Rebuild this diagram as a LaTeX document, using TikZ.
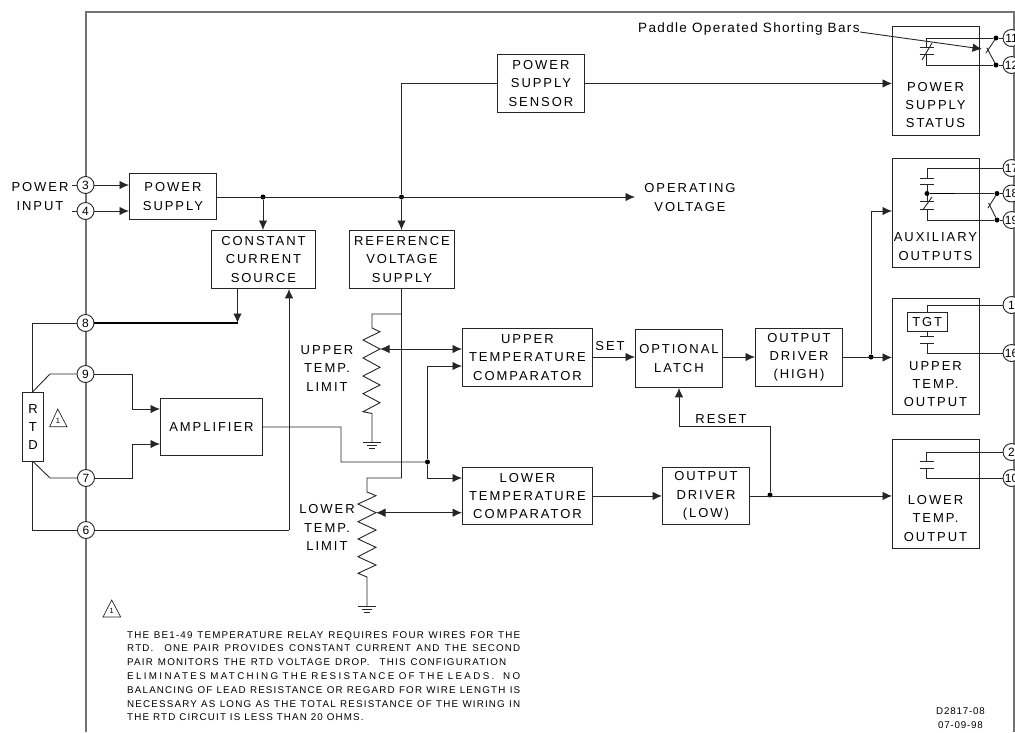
\documentclass[tikz,border=0pt]{standalone}
\usepackage{fontspec}
\setmainfont{Liberation Sans}
\usetikzlibrary{arrows.meta}
\newfontfamily\spaced[LetterSpace=15]{Liberation Sans}
\newfontfamily\paddlefont[LetterSpace=10]{Liberation Sans}
\newfontfamily\notefont[LetterSpace=12]{Liberation Sans}
\newfontfamily\notewide[LetterSpace=24]{Liberation Sans}
\newfontfamily\datefam[LetterSpace=8]{Liberation Sans}
\tikzset{
 wire/.style={line width=0.9pt,black!85},
 thickwire/.style={line width=1.5pt,black},
 arr/.style={wire,-{Latex[length=9.5pt,width=8.5pt]}},
 darr/.style={wire,{Latex[length=9.5pt,width=8.5pt]}-{Latex[length=9.5pt,width=8.5pt]}},
 boxfont/.style={font=\spaced\fontsize{13}{18.3}\selectfont},
 box/.style={draw=black!85,line width=0.9pt,inner sep=0pt,boxfont,align=center,anchor=north west},
 lab/.style={inner sep=0pt,boxfont,align=center},
 term/.style={circle,draw=black!85,line width=0.9pt,fill=white,minimum size=17pt,inner sep=0pt,font=\fontsize{12}{12}\selectfont},
 dot/.style={circle,fill=black,minimum size=5pt,inner sep=0pt},
 noteline/.style={inner sep=0pt,anchor=base west,font=\notefont\fontsize{9.8}{10}\selectfont},
 datefont/.style={inner sep=0pt,font=\datefam\fontsize{9.8}{14.5}\selectfont,align=center},
 mark1/.style={inner sep=0pt,font=\fontsize{7.5}{8}\selectfont},
}
\newcommand{\gnd}[3]{% x, y, half width
 \draw[wire] (#1-#3,#2) -- (#1+#3,#2) (#1-#3*0.6,#2+3) -- (#1+#3*0.6,#2+3) (#1-#3*0.3,#2+6) -- (#1+#3*0.3,#2+6);}
\newcommand{\plates}[3]{% x, y1, y2
 \draw[wire] (#1-7,#2) -- (#1+7,#2) (#1-7,#3) -- (#1+7,#3);}
\begin{document}
\begin{tikzpicture}[x=1pt,y=-1pt]
\useasboundingbox (0,0) rectangle (1015,732);
\draw[line width=1.2pt,black!55] (86,732) -- (86,12) -- (1014,12) -- (1014,732);

% boxes
\node[box,minimum width=87pt,minimum height=46pt] (ps) at (129,173) {POWER\\SUPPLY};
\node[box,minimum width=104pt,minimum height=58pt] (ccs) at (211,230) {CONSTANT\\CURRENT\\SOURCE};
\node[box,minimum width=105pt,minimum height=58pt] (ref) at (349,230) {REFERENCE\\VOLTAGE\\SUPPLY};
\node[box,minimum width=87pt,minimum height=58pt] (sens) at (497,54) {POWER\\SUPPLY\\SENSOR};
\node[box,minimum width=130pt,minimum height=58pt] (ucomp) at (462,328) {UPPER\\TEMPERATURE\\COMPARATOR};
\node[box,minimum width=87pt,minimum height=58pt] (latch) at (635,329) {OPTIONAL\\LATCH};
\node[box,minimum width=87pt,minimum height=58pt] (dhigh) at (755,328) {OUTPUT\\DRIVER\\(HIGH)};
\node[box,minimum width=130pt,minimum height=57pt] (lcomp) at (462,467) {LOWER\\TEMPERATURE\\COMPARATOR};
\node[box,minimum width=87pt,minimum height=57pt] (dlow) at (662,467) {OUTPUT\\DRIVER\\(LOW)};
\node[box,minimum width=102pt,minimum height=57pt] (amp) at (160,398) {AMPLIFIER};
\node[box,minimum width=21pt,minimum height=69pt] (rtd) at (22,392) {R\\T\\D};
\node[box,minimum width=87pt,minimum height=109pt] (psst) at (892,26) {};
\node[box,minimum width=87pt,minimum height=109pt] (aux) at (892,158) {};
\node[box,minimum width=87pt,minimum height=116pt] (uout) at (892,298) {};
\node[box,minimum width=87pt,minimum height=109pt] (lout) at (892,439) {};
\node[box,minimum width=39.5pt,minimum height=19.5pt] (tgt) at (907,311.5) {TGT};

% box captions
\node[lab] (lpsst) at (935.5,105) {POWER\\SUPPLY\\STATUS};
\node[lab] (laux) at (935.5,246.5) {AUXILIARY\\OUTPUTS};
\node[lab] (luout) at (935.5,384) {UPPER\\TEMP.\\OUTPUT};
\node[lab] (llout) at (935.5,518.5) {LOWER\\TEMP.\\OUTPUT};

% labels
\node[lab] (lpower) at (40,187) {POWER};
\node[lab] (linput) at (40,206) {INPUT};
\node[lab] (lop) at (690,197.5) {OPERATING\\VOLTAGE};
\node[lab] (lut) at (327,368.5) {UPPER\\TEMP.\\LIMIT};
\node[lab] (llt) at (327,527.5) {LOWER\\TEMP.\\LIMIT};
\node[lab] (lset) at (610,346) {SET};
\node[lab] (lreset) at (721,419) {RESET};
\node[inner sep=0pt,anchor=west,font=\paddlefont\fontsize{13.5}{14}\selectfont] (paddle) at (638,29) {Paddle Operated Shorting Bars};

% terminals
\node[term] (t3) at (85.5,185) {3};
\node[term] (t4) at (85.5,211) {4};
\node[term] (t8) at (85.5,323) {8};
\node[term] (t9) at (85.5,374) {9};
\node[term] (t7) at (86,478) {7};
\node[term] (t6) at (86,530) {6};
\node[term] (t11) at (1011.5,38) {11};
\node[term] (t12) at (1011.5,65) {12};
\node[term] (t17) at (1011.5,168) {17};
\node[term] (t18) at (1011.5,193.5) {18};
\node[term] (t19) at (1011.5,220) {19};
\node[term] (t1) at (1011.5,305) {1};
\node[term] (t16) at (1011.5,353) {16};
\node[term] (t2) at (1011.5,452) {2};
\node[term] (t10) at (1011.5,478) {10};

% junction dots
\node[dot] (d1) at (263,197) {};
\node[dot] (d2) at (401.5,197) {};
\node[dot] (d3) at (427.5,462) {};
\node[dot] (d4) at (770,495) {};
\node[dot] (d5) at (871,357) {};
\node[dot] (d11) at (996,38) {};
\node[dot] (d12) at (996,65) {};
\node[dot] (d18) at (997,193.5) {};
\node[dot] (d19) at (997,220) {};
\node[dot] (d0) at (927,193.5) {};

% free ends
\coordinate (opv) at (635,197);
\coordinate (u1) at (372,314);
\coordinate (l1) at (367,478);
\coordinate (uw) at (380,349);
\coordinate (lw) at (376,512.7);
\coordinate (k1) at (237.5,323);
\coordinate (k2) at (289,530);
\coordinate (c1) at (926.5,38);
\coordinate (c2) at (926.5,65);
\coordinate (c3) at (927,168);
\coordinate (c4) at (927,220);
\coordinate (c5) at (927,305);
\coordinate (c6) at (927,353);
\coordinate (c7) at (926.5,452);
\coordinate (c8) at (926.5,478);

% power input
\draw[wire] (72,185) -- (t3);
\draw[wire] (72,211) -- (t4);
\draw[arr] (t3) -- (ps.west |- t3);
\draw[arr] (t4) -- (ps.west |- t4);
\draw[arr] (ps.east |- opv) -- (opv);
\draw[arr] (d1) -- (ccs.north -| d1);
\draw[arr] (d2) -- (ref.north -| d2);
\draw[wire] (d2) |- (sens.west);
\draw[arr] (sens.east) -- (psst.west |- sens.east);

% reference rails
\draw[wire] (ref.south -| d2) -- (d2 |- l1) -- (l1) -- (367,492) -- (376,495.7) -- (358,504) -- (376,512.7) -- (358,521.7) -- (376,530) -- (358,539) -- (376,547.3) -- (358,556.7) -- (376,565) -- (358,573.3) -- (367,577) -- (367,606);
\draw[wire] (d2 |- u1) -- (u1) -- (372,328) -- (380,331.7) -- (363,340) -- (380,349) -- (363,358) -- (380,367.3) -- (363,376) -- (380,385) -- (363,393.7) -- (380,402.7) -- (363,411.7) -- (372,413.5) -- (372,442);
\gnd{372}{442}{9}
\gnd{367}{606}{9}
\draw[darr] (uw) -- (ucomp.west |- uw);
\draw[darr] (lw) -- (lcomp.west |- lw);

% amplifier
\draw[wire] (amp.east) -- (341,427) -- (341,462) -- (d3);
\draw[arr] (d3) |- (ucomp.west |- 0,366);
\draw[arr] (d3) |- (lcomp.west |- 0,478);

% RTD
\draw[wire] (t8) -| (rtd.north -| 32,0);
\draw[thickwire] (t8) -- (k1);
\draw[arr] (ccs.south -| k1) -- (k1);
\draw[wire] (t9) -- (50,374) -- (32.5,392);
\draw[wire] (t7) -- (50,478) -- (32.5,461);
\draw[wire] (t6) -| (rtd.south -| 32,0);
\draw[wire] (t6) -- (k2);
\draw[arr] (k2) -- (ccs.south -| k2);
\draw[arr] (t9) -- (132.5,374) |- (amp.west |- 0,409);
\draw[arr] (t7) -- (132.5,478) |- (amp.west |- 0,444);

% logic chain
\draw[arr] (ucomp.east |- 0,357) -- (latch.west |- 0,357);
\draw[arr] (latch.east |- 0,357) -- (dhigh.west |- 0,357);
\draw[arr] (dhigh.east) -- (uout.west |- dhigh.east);
\draw[arr] (d5) |- (aux.west |- 0,211);
\draw[arr] (lcomp.east) -- (dlow.west);
\draw[arr] (dlow.east) -- (lout.west |- dlow.east);
\draw[arr] (d4) |- (679,426) -- (latch.south -| 679,0);

% power supply status contact
\draw[wire] (d11) -- (c1) -- (926.5,47.7) (926.5,54.7) -- (c2) -- (d12);
\plates{926.5}{47.7}{54.7}
\draw[wire] (922,60) -- (932,43);
\draw[wire] (t11) -- (d11);
\draw[wire] (t12) -- (d12);
\draw[wire] (d11) -- (986,53);
\draw[wire] (986.7,47.7) -- (d12);
\draw[arr] (860,32) -- (982,49);

% auxiliary contacts
\draw[wire] (t17) -- (c3) -- (927,178);
\plates{927}{178}{184.7}
\draw[wire] (927,184.7) -- (d0) -- (927,201) (927,209) -- (c4) -- (d19);
\plates{927}{201}{209}
\draw[wire] (922.7,210) -- (932,197);
\draw[thickwire] (d0) -- (953.5,193.5);
\draw[wire] (953.5,193.5) -- (d18);
\draw[wire] (d18) -- (t18);
\draw[wire] (d19) -- (t19);
\draw[wire] (d18) -- (988,208);
\draw[wire] (988.5,203) -- (d19);

% upper output contact
\draw[wire] (t1) -- (c5) -- (tgt.north -| c5);
\draw[wire] (tgt.south -| c5) -- (927,336.7) (927,343.3) -- (c6) -- (t16);
\plates{927}{336.7}{343.3}

% lower output contact
\draw[wire] (t2) -- (c7) -- (926.5,461) (926.5,468) -- (c8) -- (t10);
\plates{926.5}{461}{468}

% warning triangles
\draw[wire,line width=0.7pt] (57.7,409) -- (67,426.7) -- (49.7,426.7) -- cycle;
\node[mark1] (m1) at (58,421) {1};
\draw[wire,line width=0.7pt] (111.7,600) -- (120.7,617) -- (103,617) -- cycle;
\node[mark1] (m2) at (111.7,611) {1};

% note
\node[noteline] (n1) at (127,638) {\makebox[393pt][s]{THE BE1-49 TEMPERATURE RELAY REQUIRES FOUR WIRES FOR THE}};
\node[noteline] (n2) at (127,651.5) {\makebox[393pt][s]{RTD.\ \ ONE PAIR PROVIDES CONSTANT CURRENT AND THE SECOND}};
\node[noteline] (n3) at (127,665) {\makebox[379pt][s]{PAIR MONITORS THE RTD VOLTAGE DROP.\ \ THIS CONFIGURATION}};
\node[noteline] (n4) at (127,679) {\makebox[393pt][s]{\notewide\fontsize{9.8}{10}\selectfont ELIMINATES MATCHING THE RESISTANCE OF THE LEADS.\ \ NO}};
\node[noteline] (n5) at (127,693) {\makebox[393pt][s]{BALANCING OF LEAD RESISTANCE OR REGARD FOR WIRE LENGTH IS}};
\node[noteline] (n6) at (127,707) {\makebox[393pt][s]{NECESSARY AS LONG AS THE TOTAL RESISTANCE OF THE WIRING IN}};
\node[noteline] (n7) at (127,720.5) {THE RTD CIRCUIT IS LESS THAN 20 OHMS.};
\node[datefont] (date) at (960.5,718) {D2817-08\\07-09-98};
\end{tikzpicture}
\end{document}
